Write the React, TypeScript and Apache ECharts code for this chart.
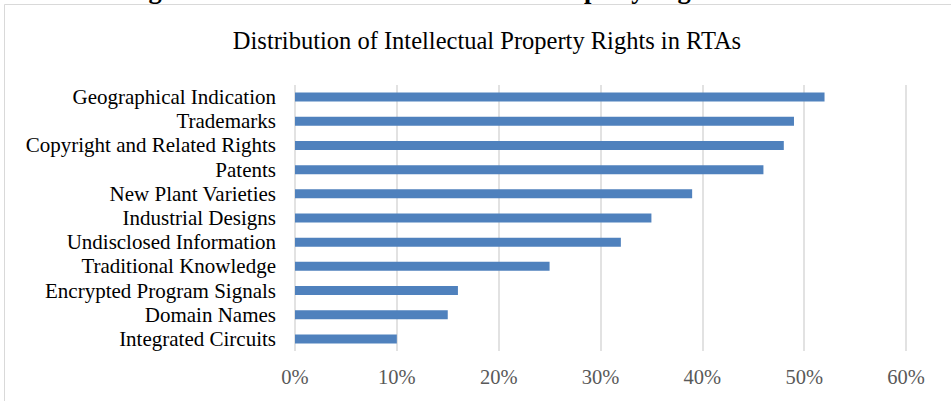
import React, { useEffect, useRef } from "react";
import * as echarts from "echarts";

const categories = [
  "Geographical Indication",
  "Trademarks",
  "Copyright and Related Rights",
  "Patents",
  "New Plant Varieties",
  "Industrial Designs",
  "Undisclosed Information",
  "Traditional Knowledge",
  "Encrypted Program Signals",
  "Domain Names",
  "Integrated Circuits",
];
const shares = [52, 49, 48, 46, 39, 35, 32, 25, 16, 15, 10];
const chartTitle = "Distribution of Intellectual Property Rights in RTAs";
const captionText = "Figure 1: Distribution of Intellectual Property Rights in RTAs";

const FONT = "'Liberation Serif', 'Times New Roman', serif";

export default function App() {
  const ref = useRef<HTMLDivElement>(null);
  useEffect(() => {
    if (!ref.current) return;
    const chart = echarts.init(ref.current, null, { renderer: "svg" });
    chart.setOption({
      animation: false,
      backgroundColor: "#ffffff",
      title: {
        text: chartTitle,
        left: 487,
        top: 28,
        textAlign: "center",
        padding: 0,
        textStyle: { fontFamily: FONT, fontSize: 24.5, fontWeight: "normal", color: "#000000" },
      },
      graphic: [
        {
          type: "rect",
          shape: { x: 4.5, y: 4.5, width: 1000, height: 500 },
          style: { fill: "none", stroke: "#d9d9d9", lineWidth: 1 },
          silent: true,
        },
        {
          type: "text",
          x: 125,
          y: -10.6,
          style: {
            text: captionText,
            font: `bold 26.5px ${FONT}`,
            fill: "#000000",
            textAlign: "left",
            textVerticalAlign: "middle",
          },
          silent: true,
        },
      ],
      grid: { left: 295, right: 45, top: 85, bottom: 50, containLabel: false },
      xAxis: {
        type: "value",
        min: 0,
        max: 60,
        interval: 10,
        axisLine: { show: false },
        axisTick: { show: false },
        axisLabel: {
          formatter: "{value}%",
          fontFamily: FONT,
          fontSize: 20.5,
          color: "#595959",
          margin: 15,
        },
        splitLine: { show: true, lineStyle: { color: "#d9d9d9", width: 1.5 } },
      },
      yAxis: {
        type: "category",
        data: categories,
        inverse: true,
        axisLine: { show: false },
        axisTick: { show: false },
        axisLabel: {
          interval: 0,
          hideOverlap: false,
          fontFamily: FONT,
          fontSize: 21,
          color: "#000000",
          margin: 19,
        },
      },
      series: [
        {
          type: "bar",
          data: shares,
          barWidth: 9,
          itemStyle: { color: "#4f81bd" },
        },
      ],
    });
    return () => chart.dispose();
  }, []);
  return (
    <div
      ref={ref}
      style={{ position: "fixed", left: 0, top: 0, width: 951, height: 401 }}
    />
  );
}
